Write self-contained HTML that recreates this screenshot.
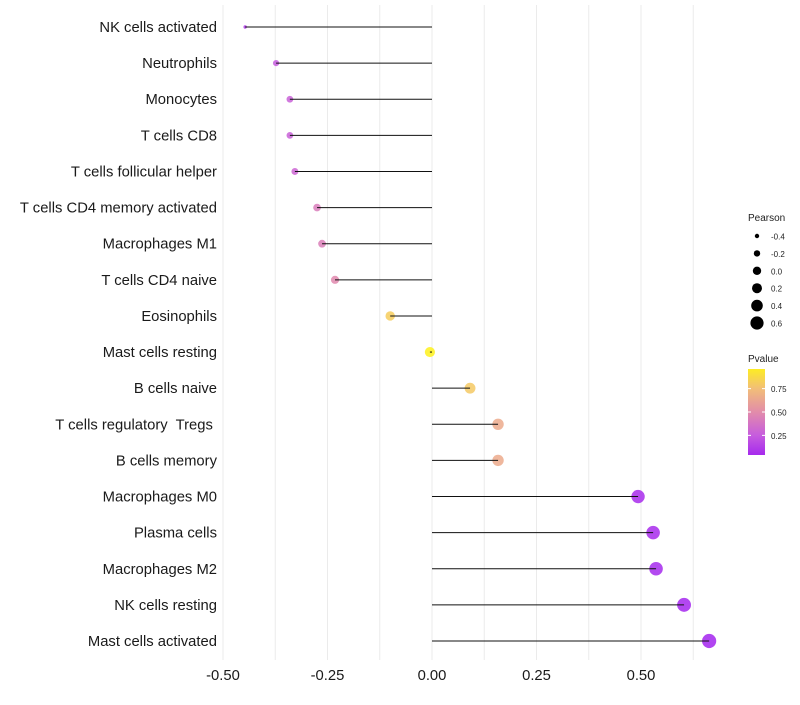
<!DOCTYPE html>
<html><head><meta charset="utf-8"><style>
body{margin:0;background:#fff;font-family:"Liberation Sans",sans-serif}
text{white-space:pre}
</style></head><body>
<svg id="chart" width="800" height="700" xmlns="http://www.w3.org/2000/svg" font-family="Liberation Sans, sans-serif"></svg>
<script>
const categories=["NK cells activated","Neutrophils","Monocytes","T cells CD8","T cells follicular helper","T cells CD4 memory activated","Macrophages M1","T cells CD4 naive","Eosinophils","Mast cells resting","B cells naive","T cells regulatory  Tregs ","B cells memory","Macrophages M0","Plasma cells","Macrophages M2","NK cells resting","Mast cells activated"];
const pearson=[-0.447,-0.373,-0.34,-0.34,-0.328,-0.275,-0.263,-0.232,-0.10,-0.005,0.091,0.158,0.158,0.493,0.529,0.536,0.603,0.663];
const pvalues=[0.1,0.25,0.28,0.28,0.3,0.42,0.43,0.48,0.82,0.98,0.8,0.65,0.65,0.05,0.05,0.04,0.03,0.02];
const xTicks=[-0.5,-0.25,0,0.25,0.5];
const xTickLabels=["-0.50","-0.25","0.00","0.25","0.50"];
const sizeLegend=[-0.4,-0.2,0.0,0.2,0.4,0.6];
const sizeLegendLabels=["-0.4","-0.2","0.0","0.2","0.4","0.6"];
const colorTicks=[0.25,0.5,0.75];
const colorTickLabels=["0.25","0.50","0.75"];

const NS="http://www.w3.org/2000/svg";
const svg=document.getElementById('chart');
function mk(t,a,p){const e=document.createElementNS(NS,t);for(const k in a)e.setAttribute(k,a[k]);(p||svg).appendChild(e);return e;}
const x=v=>432+v*418;
const y=i=>27+i*(614/17);
const r=v=>1.7+5.4*Math.sqrt(Math.max(0,(v+0.447)/1.11));
const stops=[[0,[160,32,240]],[0.25,[198,92,222]],[0.5,[226,140,170]],[0.75,[242,190,120]],[1,[255,245,20]]];
function col(p){for(let k=1;k<stops.length;k++){if(p<=stops[k][0]){const [p0,a]=stops[k-1],[p1,b]=stops[k];const t=(p-p0)/(p1-p0);return `rgb(${a.map((c,i)=>Math.round(c+(b[i]-c)*t)).join(',')})`;}}return 'rgb(255,245,20)';}
for(let g=-0.5;g<=0.626;g+=0.125){const l=mk('line',{x1:x(g),x2:x(g),y1:5,y2:660,stroke:'#ebebeb','stroke-width':1});

}
xTicks.forEach((t,i)=>{const e=mk('text',{x:x(t),y:680,'text-anchor':'middle','font-size':14.8,fill:'#1a1a1a'});e.textContent=xTickLabels[i];

});
categories.forEach((c,i)=>{
const t=mk('text',{x:217,y:y(i)+5,'text-anchor':'end','font-size':14.8,fill:'#1a1a1a'});t.textContent=c;


const d=mk('circle',{cx:x(pearson[i]),cy:y(i),r:r(pearson[i]),fill:col(pvalues[i]),'fill-opacity':0.85});


const s=mk('line',{x1:x(0),x2:x(pearson[i]),y1:y(i),y2:y(i),stroke:'#111','stroke-width':1});


});
let lt=mk('text',{x:748,y:221,'font-size':10,fill:'#222'});lt.textContent='Pearson';


const lr=[2.2,3.2,4.2,5,5.8,6.6];
sizeLegend.forEach((v,i)=>{const cy=236+i*17.4;
const c=mk('circle',{cx:757,cy:cy,r:lr[i],fill:'#000'});


const t=mk('text',{x:771,y:cy+3.5,'font-size':8,fill:'#222'});t.textContent=sizeLegendLabels[i];

});
let ct=mk('text',{x:748,y:362,'font-size':10,fill:'#222'});ct.textContent='Pvalue';


const defs=mk('defs',{});const lg=mk('linearGradient',{id:'g',x1:0,y1:1,x2:0,y2:0},defs);
[0.04,0.25,0.5,0.75,0.96].forEach((p,k)=>mk('stop',{offset:(p-0.04)/0.92,'stop-color':col(p)},lg));
const cb=mk('rect',{x:748,y:369,width:17,height:86,fill:'url(#g)'});


const cy=p=>455-(p-0.04)/0.92*86;
colorTicks.forEach((p,i)=>{mk('line',{x1:748,x2:751,y1:cy(p),y2:cy(p),stroke:'#fff'});mk('line',{x1:762,x2:765,y1:cy(p),y2:cy(p),stroke:'#fff'});
const t=mk('text',{x:771,y:cy(p)+3.5,'font-size':8,fill:'#222'});t.textContent=colorTickLabels[i];

});
</script>
</body></html>
